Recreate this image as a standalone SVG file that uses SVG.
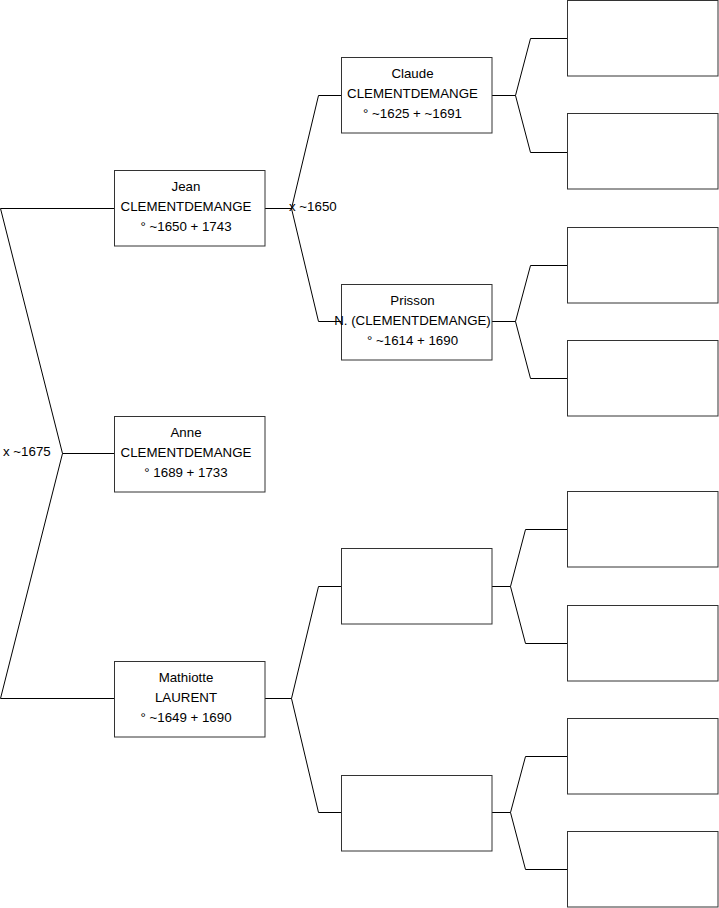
<svg xmlns="http://www.w3.org/2000/svg" width="719" height="908" viewBox="0 0 719 908">
<style>
.box{fill:#fff;stroke:#333;stroke-width:1}
.ln{fill:none;stroke:#000;stroke-width:1}
text{font-family:"Liberation Sans",Arial,sans-serif;font-size:13.3px;fill:#000}
.c{text-anchor:middle}
</style>
<rect width="719" height="908" fill="#fff"/>
<g id="connectors">
<polyline class="ln" points="0.5,208.5 114,208.5"/>
<polyline class="ln" points="0.5,208.5 62.5,453.5 0.5,698.5 114,698.5"/>
<polyline class="ln" points="62.5,453.5 114,453.5"/>
<polyline class="ln" points="265,208.5 291.5,208.5"/>
<polyline class="ln" points="341,95.5 318.5,95.5 291.5,208.5 318.5,321.5 341,321.5"/>
<polyline class="ln" points="265,698.5 291.5,698.5"/>
<polyline class="ln" points="341,586.5 318.5,586.5 291.5,698.5 318.5,812.5 341,812.5"/>
<polyline class="ln" points="492,95.5 515.5,95.5"/>
<polyline class="ln" points="567,38.5 530.5,38.5 515.5,95.5 530.5,152.5 567,152.5"/>
<polyline class="ln" points="492,321.5 515.5,321.5"/>
<polyline class="ln" points="567,265.5 530.5,265.5 515.5,321.5 530.5,378.5 567,378.5"/>
<polyline class="ln" points="492,586.5 510.5,586.5"/>
<polyline class="ln" points="567,529.5 525.5,529.5 510.5,586.5 525.5,643.5 567,643.5"/>
<polyline class="ln" points="492,812.5 510.5,812.5"/>
<polyline class="ln" points="567,756.5 525.5,756.5 510.5,812.5 525.5,869.5 567,869.5"/>
<text x="3" y="456">x ~1675</text>
<text x="289" y="211">x ~1650</text>
</g>
<g id="jean">
<rect class="box" x="114.5" y="170.5" width="150.5" height="75.5"/>
<text class="c" x="186" y="191">Jean</text>
<text class="c" x="186" y="211">CLEMENTDEMANGE</text>
<text class="c" x="186" y="231">° ~1650 + 1743</text>
</g>
<g id="anne">
<rect class="box" x="114.5" y="416.5" width="150.5" height="75.5"/>
<text class="c" x="186" y="437">Anne</text>
<text class="c" x="186" y="457">CLEMENTDEMANGE</text>
<text class="c" x="186" y="477">° 1689 + 1733</text>
</g>
<g id="mathiotte">
<rect class="box" x="114.5" y="661.5" width="150.5" height="75.5"/>
<text class="c" x="186" y="682">Mathiotte</text>
<text class="c" x="186" y="702">LAURENT</text>
<text class="c" x="186" y="722">° ~1649 + 1690</text>
</g>
<g id="claude">
<rect class="box" x="341.5" y="57.5" width="150.5" height="75.5"/>
<text class="c" x="412.5" y="78">Claude</text>
<text class="c" x="412.5" y="98">CLEMENTDEMANGE</text>
<text class="c" x="412.5" y="118">° ~1625 + ~1691</text>
</g>
<g id="prisson">
<rect class="box" x="341.5" y="284.5" width="150.5" height="75.5"/>
<text class="c" x="412.5" y="305">Prisson</text>
<text class="c" x="412.5" y="325">N. (CLEMENTDEMANGE)</text>
<text class="c" x="412.5" y="345">° ~1614 + 1690</text>
</g>
<g id="mf"><rect class="box" x="341.5" y="548.5" width="150.5" height="75.5"/></g>
<g id="mm"><rect class="box" x="341.5" y="775.5" width="150.5" height="75.5"/></g>
<g id="g1"><rect class="box" x="567.5" y="0.5" width="150.5" height="75.5"/></g>
<g id="g2"><rect class="box" x="567.5" y="113.5" width="150.5" height="75.5"/></g>
<g id="g3"><rect class="box" x="567.5" y="227.5" width="150.5" height="75.5"/></g>
<g id="g4"><rect class="box" x="567.5" y="340.5" width="150.5" height="75.5"/></g>
<g id="g5"><rect class="box" x="567.5" y="491.5" width="150.5" height="75.5"/></g>
<g id="g6"><rect class="box" x="567.5" y="605.5" width="150.5" height="75.5"/></g>
<g id="g7"><rect class="box" x="567.5" y="718.5" width="150.5" height="75.5"/></g>
<g id="g8"><rect class="box" x="567.5" y="831.5" width="150.5" height="75.5"/></g>
</svg>
